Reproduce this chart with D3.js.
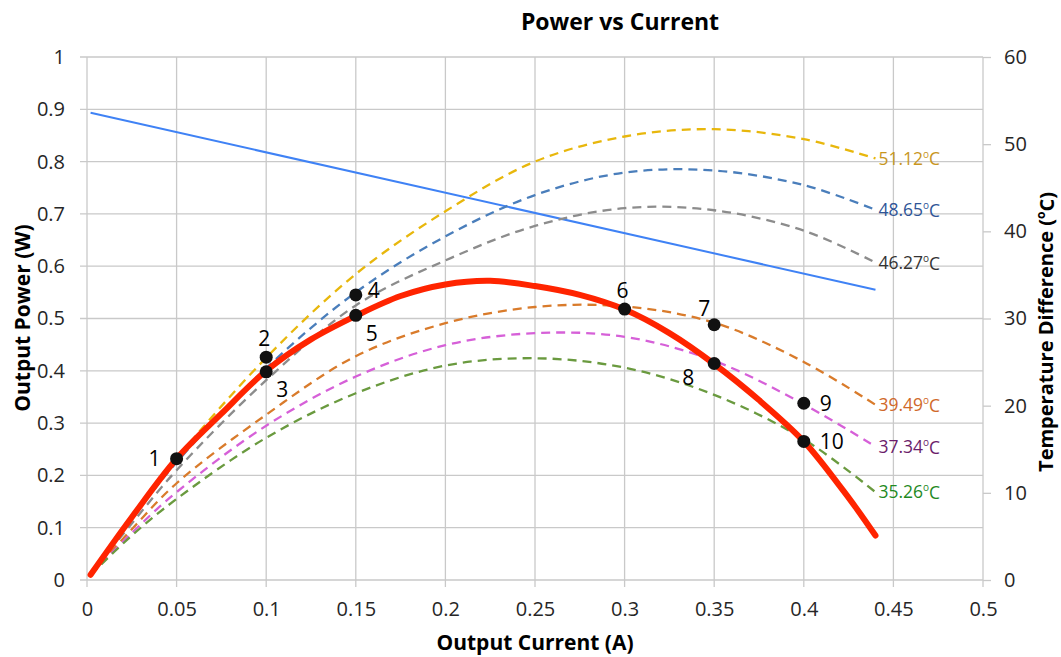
<!DOCTYPE html>
<html>
<head>
<meta charset="utf-8">
<script src="https://cdn.jsdelivr.net/npm/d3@7"></script>
<style>
  body { margin: 0; background: #fff; }
  text { font-family: "Open Sans", sans-serif; }
</style>
</head>
<body>
<script>
// measured curve (red) - output power vs current
var measCurrent = [0.002, 0.025, 0.05, 0.075, 0.1, 0.125, 0.15, 0.175, 0.2, 0.225, 0.25, 0.275, 0.3, 0.325, 0.35, 0.375, 0.4, 0.42, 0.43, 0.44]
var measPower = [0.01, 0.12, 0.232, 0.318, 0.4, 0.46, 0.505, 0.543, 0.565, 0.572, 0.562, 0.545, 0.517, 0.472, 0.413, 0.344, 0.265, 0.18, 0.134, 0.085]

// dashed curves at fixed temperature difference
var tempCurrent = [0.002, 0.025, 0.05, 0.1, 0.15, 0.2, 0.25, 0.3, 0.35, 0.4, 0.44]
var tempLabels = ['51.12', '48.65', '46.27', '39.49', '37.34', '35.26']
var tempPower = [
  [0.01, 0.12, 0.232, 0.425, 0.585, 0.705, 0.80, 0.848, 0.862, 0.843, 0.806],
  [0.01, 0.118, 0.225, 0.405, 0.55, 0.657, 0.736, 0.779, 0.783, 0.755, 0.708],
  [0.01, 0.108, 0.21, 0.382, 0.525, 0.611, 0.677, 0.711, 0.707, 0.668, 0.607],
  [0.01, 0.097, 0.185, 0.316, 0.428, 0.491, 0.522, 0.523, 0.492, 0.417, 0.335],
  [0.01, 0.09, 0.168, 0.295, 0.389, 0.449, 0.472, 0.465, 0.419, 0.336, 0.255],
  [0.01, 0.085, 0.155, 0.272, 0.357, 0.41, 0.424, 0.406, 0.354, 0.269, 0.168]
]
var lineColors = ['#e8b70c', '#4a7ebb', '#8c8c8c', '#d97b2b', '#d660d8', '#6a9a3f']
var labelColors = ['#c8961e', '#2f5597', '#333333', '#d0692a', '#6b1d6b', '#1f8a1f']

// temperature difference (right axis)
var dtCurrent = [0.002, 0.44]
var dtValue = [53.6, 33.3]

// numbered operating points
var ptNum = ['1', '2', '3', '4', '5', '6', '7', '8', '9', '10']
var ptCurrent = [0.05, 0.1, 0.1, 0.15, 0.15, 0.3, 0.35, 0.35, 0.4, 0.4]
var ptPower = [0.232, 0.426, 0.398, 0.545, 0.506, 0.518, 0.488, 0.414, 0.338, 0.265]
var ptPlace = ['left', 'above', 'belowRight', 'aboveRight', 'belowRight', 'above', 'aboveLeft', 'belowLeft', 'right', 'right']

var margin = { top: 57, left: 87 }
var width = 896, height = 523
var gridColor = '#c9c9c9'

var svg = d3.select('body').append('svg')
  .attr('width', 1061)
  .attr('height', 657)

var g = svg.append('g')
  .attr('transform', 'translate(' + margin.left + ',' + margin.top + ')')

var x = d3.scaleLinear().domain([0, 0.5]).range([0, width])
var y = d3.scaleLinear().domain([0, 1]).range([height, 0])
var y2 = d3.scaleLinear().domain([0, 60]).range([height, 0])

var fmt = function(d) { return String(+d.toFixed(2)) }

// grid lines (with little outward ticks)
g.append('g').selectAll('line')
  .data(y.ticks(10))
  .enter().append('line')
  .attr('x1', -7).attr('x2', width)
  .attr('y1', d => y(d)).attr('y2', d => y(d))
  .attr('stroke', gridColor).attr('stroke-width', 1.3)

g.append('g').selectAll('line')
  .data(x.ticks(10))
  .enter().append('line')
  .attr('x1', d => x(d)).attr('x2', d => x(d))
  .attr('y1', 0).attr('y2', height + 7)
  .attr('stroke', gridColor).attr('stroke-width', 1.3)

// axes
var yAxis = g.append('g')
  .call(d3.axisLeft(y).ticks(10).tickSize(0).tickPadding(22).tickFormat(fmt))
var xAxis = g.append('g')
  .attr('transform', 'translate(0,' + height + ')')
  .call(d3.axisBottom(x).ticks(10).tickSize(0).tickPadding(22).tickFormat(fmt))
var yAxis2 = g.append('g')
  .attr('transform', 'translate(' + width + ',0)')
  .call(d3.axisRight(y2).ticks(6).tickSize(8).tickPadding(13))

;[yAxis, xAxis, yAxis2].forEach(function(a) {
  a.select('.domain').remove()
  a.selectAll('.tick line').attr('stroke', gridColor).attr('stroke-width', 1.3)
  a.selectAll('.tick text')
    .attr('fill', '#262626')
    .style('font-size', '20px')
    .style('font-family', '"Open Sans", sans-serif')
})

var smooth = d3.line().curve(d3.curveCatmullRom.alpha(0.5))

// temperature difference line
g.append('path')
  .attr('d', smooth(dtCurrent.map((c, i) => [x(c), y2(dtValue[i])])))
  .attr('fill', 'none')
  .attr('stroke', '#3f82f5')
  .attr('stroke-width', 2)

// dashed curves
tempPower.forEach(function(vals, k) {
  g.append('path')
    .attr('d', smooth(tempCurrent.map((c, i) => [x(c), y(vals[i])])))
    .attr('fill', 'none')
    .attr('stroke', lineColors[k])
    .attr('stroke-width', 2.3)
    .attr('stroke-dasharray', '9,6')

  var last = tempCurrent.length - 1
  var t = g.append('text')
    .attr('x', x(tempCurrent[last]) + 3)
    .attr('y', y(vals[last]))
    .attr('dy', '0.35em')
    .attr('fill', labelColors[k])
    .style('font-size', '17.5px')
  t.append('tspan').text(tempLabels[k])
  t.append('tspan').text('o').style('font-size', '10px').attr('dy', '-0.7em')
  t.append('tspan').text('C').attr('dy', '0.45em')
})

// measured curve
g.append('path')
  .attr('d', smooth(measCurrent.map((c, i) => [x(c), y(measPower[i])])))
  .attr('fill', 'none')
  .attr('stroke', '#ff2400')
  .attr('stroke-width', 6)
  .attr('stroke-linecap', 'round')

// points
g.append('g').selectAll('circle')
  .data(ptNum)
  .enter().append('circle')
  .attr('cx', (d, i) => x(ptCurrent[i]))
  .attr('cy', (d, i) => y(ptPower[i]))
  .attr('r', 6.5)
  .attr('fill', '#111')

var offsets = {
  left: [-22, 0, 'middle'],
  above: [-2, -19, 'middle'],
  aboveLeft: [-10, -16, 'middle'],
  aboveRight: [18, -5, 'middle'],
  belowRight: [16, 18, 'middle'],
  belowLeft: [-26, 14, 'middle'],
  right: [16, 0, 'start']
}

g.append('g').selectAll('text')
  .data(ptNum)
  .enter().append('text')
  .attr('x', (d, i) => x(ptCurrent[i]) + offsets[ptPlace[i]][0])
  .attr('y', (d, i) => y(ptPower[i]) + offsets[ptPlace[i]][1])
  .attr('dy', '0.36em')
  .attr('text-anchor', (d, i) => offsets[ptPlace[i]][2])
  .style('font-size', '21px')
  .attr('fill', '#000')
  .text(d => d)

// titles
svg.append('text')
  .attr('x', 620).attr('y', 30)
  .attr('text-anchor', 'middle')
  .style('font-size', '23px').style('font-weight', 'bold')
  .text('Power vs Current')

svg.append('text')
  .attr('x', 535).attr('y', 650)
  .attr('text-anchor', 'middle')
  .style('font-size', '21px').style('font-weight', 'bold')
  .text('Output Current (A)')

svg.append('text')
  .attr('transform', 'translate(30,318) rotate(-90)')
  .attr('text-anchor', 'middle')
  .style('font-size', '21px').style('font-weight', 'bold')
  .text('Output Power (W)')

var rt = svg.append('text')
  .attr('transform', 'translate(1053,332) rotate(-90)')
  .attr('text-anchor', 'middle')
  .style('font-size', '20px').style('font-weight', 'bold')
rt.append('tspan').text('Temperature Difference (')
rt.append('tspan').text('o').style('font-size', '12px').attr('dy', '-0.7em')
rt.append('tspan').text('C)').attr('dy', '0.45em')
</script>
</body>
</html>
